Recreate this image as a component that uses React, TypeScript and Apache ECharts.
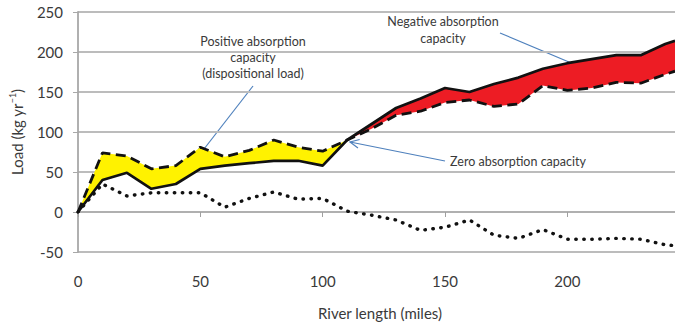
import React, { useEffect, useRef } from "react";
import * as echarts from "echarts";

// River length (miles)
const miles = [0, 10, 20, 30, 40, 50, 60, 70, 80, 90, 100, 110, 120, 130, 140, 150, 160, 170, 180, 190, 200, 210, 220, 230, 240, 244];
// Solid line (black)
const solidLoad = [0, 40, 49, 29, 35, 54, 58, 61, 64, 64, 58, 90, 110, 130, 142, 155, 150, 160, 168, 179, 186, 191, 196, 196, 210, 214];
// Dashed line
const dashedLoad = [0, 74, 70, 54, 58, 81, 69, 77, 90, 81, 76, 90, 104, 121, 126, 137, 140, 132, 135, 158, 152, 155, 162, 161, 172, 176];
// Dotted line
const dottedLoad = [0, 35, 20, 24, 24, 24, 6, 17, 25, 16, 17, 1, -4, -10, -23, -19, -10, -29, -33, -22, -34, -34, -33, -34, -41, -42];

const crossIndex = 11; // zero absorption capacity point (110 miles)
const yTicks = { min: -50, max: 250, interval: 50 };
const xTicks = { min: 0, max: 244, interval: 50 };

const FONT = "Lato, 'Open Sans', sans-serif";
const TEXT = "#3a3a3a";
const ARROW = "#4f81bd";

function arrow(x1: number, y1: number, x2: number, y2: number) {
  const a = Math.atan2(y2 - y1, x2 - x1);
  const len = 10;
  const spread = 0.45;
  const p1 = [x2 - len * Math.cos(a - spread), y2 - len * Math.sin(a - spread)];
  const p2 = [x2 - len * Math.cos(a + spread), y2 - len * Math.sin(a + spread)];
  return {
    type: "group",
    children: [
      { type: "line", shape: { x1, y1, x2, y2 }, style: { stroke: ARROW, lineWidth: 1.2 } },
      { type: "polyline", shape: { points: [p1, [x2, y2], p2] }, style: { stroke: ARROW, lineWidth: 1.2, fill: null } },
    ],
  };
}

function bandSeries(name: string, from: number, to: number, color: string) {
  return {
    type: "custom",
    name,
    coordinateSystem: "cartesian2d",
    silent: true,
    clip: true,
    data: [[miles[from], solidLoad[from]]],
    renderItem: (_params: any, api: any) => {
      const pts: number[][] = [];
      for (let i = from; i <= to; i++) pts.push(api.coord([miles[i], dashedLoad[i]]));
      for (let i = to; i >= from; i--) pts.push(api.coord([miles[i], solidLoad[i]]));
      return { type: "polygon", shape: { points: pts }, style: { fill: color, stroke: null } };
    },
  };
}

export default function App() {
  const ref = useRef<HTMLDivElement>(null);
  useEffect(() => {
    document.body.style.margin = "0";
    const chart = echarts.init(ref.current!, undefined, { renderer: "svg" });

    const pair = (ys: number[]) => ys.map((y, i) => [miles[i], y]);

    chart.setOption({
      animation: false,
      grid: { left: 72, right: 0, top: 12, bottom: 76, containLabel: false },
      xAxis: [
        {
          type: "value",
          ...xTicks,
          axisLine: { show: false, onZero: false },
          axisTick: { show: false },
          splitLine: { show: false },
          axisLabel: { color: TEXT, fontSize: 15, fontFamily: FONT, margin: 21, showMaxLabel: false },
        },
        {
          type: "value",
          ...xTicks,
          position: "bottom",
          axisLine: { show: true, onZero: true, lineStyle: { color: "#b0b0b0", width: 1.8 } },
          axisTick: { show: true, length: 5, lineStyle: { color: "#a0a0a0", width: 1 } },
          splitLine: { show: false },
          axisLabel: { show: false },
        },
      ],
      yAxis: {
        type: "value",
        ...yTicks,
        name: "Load (kg yr{sup|−1})",
        nameLocation: "middle",
        nameGap: 51,
        nameTextStyle: {
          color: TEXT,
          fontSize: 15,
          fontFamily: FONT,
          lineHeight: 18,
          rich: { sup: { fontSize: 9, fontFamily: FONT, color: TEXT, verticalAlign: "top", lineHeight: 18 } },
        },
        axisLine: { show: true, lineStyle: { color: "#a8a8a8", width: 1.8 } },
        axisTick: { show: true, length: 5, lineStyle: { color: "#a8a8a8" } },
        splitLine: { show: true, lineStyle: { color: "#bcbcbc", width: 1.8 } },
        axisLabel: { color: TEXT, fontSize: 15, fontFamily: FONT, margin: 15 },
      },
      series: [
        bandSeries("Positive absorption", 0, crossIndex, "#fff200"),
        bandSeries("Negative absorption", crossIndex, miles.length - 1, "#ed1c24"),
        {
          type: "line", name: "Dotted", data: pair(dottedLoad), symbol: "none",
          lineStyle: { color: "#111", width: 3.4, type: [0.5, 7.5], cap: "round" },
        },
        {
          type: "line", name: "Dashed", data: pair(dashedLoad), symbol: "none",
          lineStyle: { color: "#111", width: 2.8, type: [10, 5.5] },
        },
        {
          type: "line", name: "Solid", data: pair(solidLoad), symbol: "none",
          lineStyle: { color: "#111", width: 2.7 },
        },
      ],
      graphic: [
        {
          type: "text", x: 380, y: 313,
          style: { text: "River length (miles)", fill: TEXT, font: `15px ${FONT}`, textAlign: "center", textVerticalAlign: "middle" },
        },
        {
          type: "text", x: 253, y: 57,
          style: {
            text: "Positive absorption\ncapacity\n(dispositional load)", fill: TEXT, font: `12.5px ${FONT}`,
            textAlign: "center", textVerticalAlign: "middle", lineHeight: 16,
          },
        },
        {
          type: "text", x: 443, y: 30,
          style: {
            text: "Negative absorption\ncapacity", fill: TEXT, font: `12.5px ${FONT}`,
            textAlign: "center", textVerticalAlign: "middle", lineHeight: 16.5,
          },
        },
        {
          type: "text", x: 518, y: 161,
          style: { text: "Zero absorption capacity", fill: TEXT, font: `12.5px ${FONT}`, textAlign: "center", textVerticalAlign: "middle" },
        },
        arrow(253, 86, 197, 158),
        arrow(500, 33, 595, 73),
        arrow(445, 161, 350, 142),
      ],
    });
    return () => chart.dispose();
  }, []);
  return <div ref={ref} style={{ width: 675, height: 328 }} />;
}
